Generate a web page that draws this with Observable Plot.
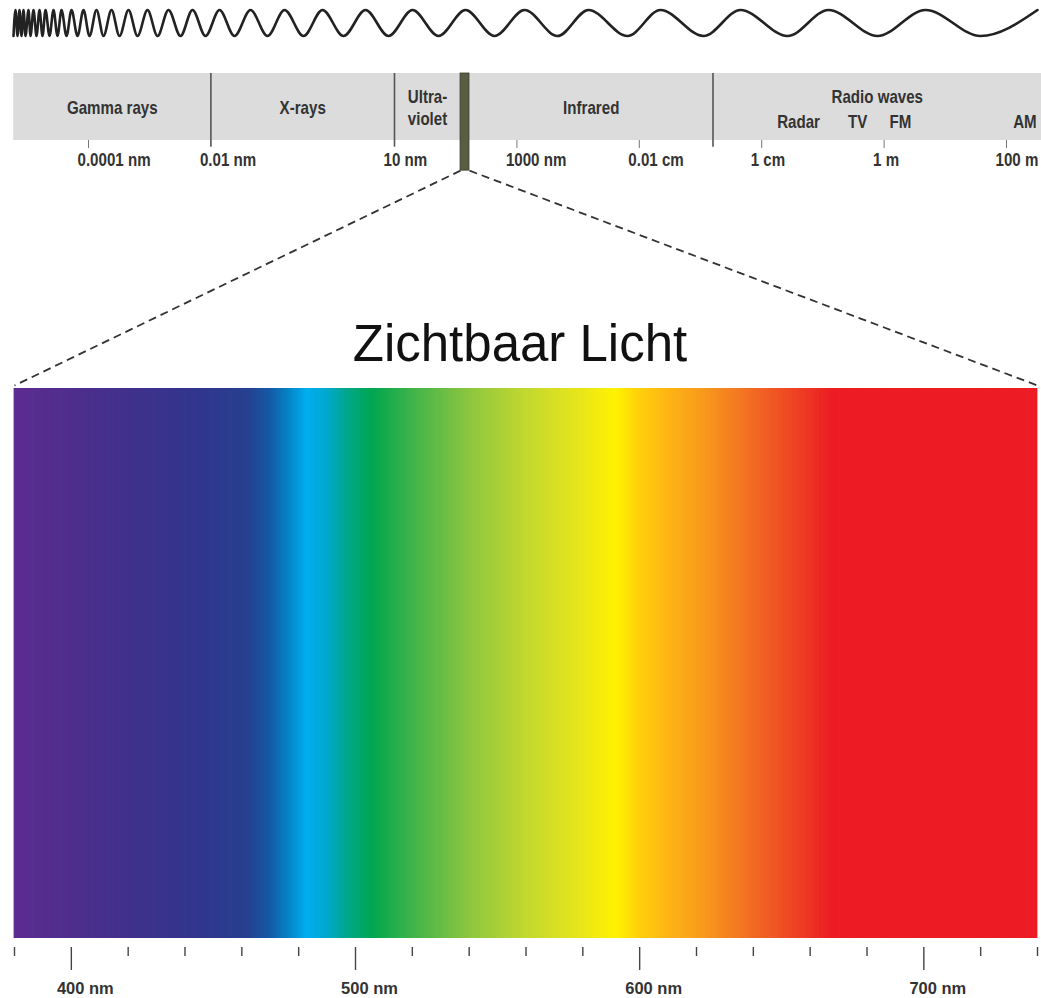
<!DOCTYPE html>
<html>
<head>
<meta charset="utf-8">
<script src="https://cdn.jsdelivr.net/npm/d3@7"></script>
<script src="https://cdn.jsdelivr.net/npm/@observablehq/plot@0.6"></script>
<style>
  html, body { margin: 0; padding: 0; background: #fff; }
  #chart { position: relative; width: 1041px; height: 998px; overflow: hidden; background: #fff; }
</style>
</head>
<body>
<div id="chart"></div>
<script>
// ---------- DATA ----------
// decorative wave: x positions of successive troughs / peaks (left to right)
const waveExtrema = [13, 15, 17, 19, 21, 23, 25, 28, 30, 33, 36, 39, 42, 45, 49, 53, 57, 61, 66, 71,
  77, 83, 89, 96, 103, 111, 119, 128, 137, 147, 157, 168, 180, 192, 205, 219, 234, 250, 267, 284,
  303, 322, 343, 365, 388, 412, 438, 465, 494, 524, 557, 588, 627, 660, 703, 740, 787, 828, 877, 925, 980, 1037];

// electromagnetic spectrum (wavelength in metres, log scale)
const emDomain = [3.65e-15, 373];
const emBandNames = ["Gamma rays", "X-rays", "Ultra-\nviolet", "Infrared", "Radio waves"];
const emBandFrom  = [6e-15, 1e-11, 1e-8, 1.68e-7, 1.6e-3];
const emBandTo    = [1e-11, 1e-8, 1.2e-7, 1.6e-3, 373];
const emDividers  = [1e-11, 1e-8, 1.6e-3];
const visibleBand = [1.2e-7, 1.68e-7];
const emTickValues = [1e-13, 1e-6, 1e-4, 1e-2, 1, 100];
const emLabelValues = [1e-13, 1e-11, 1e-8, 1e-6, 1e-4, 1e-2, 1, 100];
const emLabelTexts  = ["0.0001 nm", "0.01 nm", "10 nm", "1000 nm", "0.01 cm", "1 cm", "1 m", "100 m"];
const radioNames  = ["Radar", "TV", "FM", "AM"];
const radioValues = [0.04, 0.37, 1.85, 200];

// visible light (nm)
const visibleRange = [380, 740];
const nmMajor = [400, 500, 600, 700];
const nmMinor = [380, 420, 440, 460, 480, 520, 540, 560, 580, 620, 640, 660, 680, 720, 740];
const stopNm     = [380, 400, 420, 445, 462, 470, 477, 483, 490, 498, 506, 520, 540, 560, 578, 592, 600, 610, 625, 640, 655, 668, 740];
const stopColors = ["#5d2c91", "#4f2e8e", "#41318c", "#31368d", "#27408f", "#1459a6", "#0586c8", "#00aeef", "#00a8cf",
  "#00a785", "#00a650", "#3fb34a", "#8cc640", "#c2d82f", "#e5e41c", "#fff200", "#ffd00b", "#fdb515", "#f7941d",
  "#f26a24", "#ee4224", "#ed1c24", "#ed1c24"];
const title = "Zichtbaar Licht";

// ---------- LAYOUT ----------
const W = 1041, H = 998;
const EM_TOP = 60, SPEC_TOP = 160, SPEC_MT = 228;
const FONT = "'Liberation Sans', Arial, Helvetica, sans-serif";
const chart = document.getElementById("chart");
const place = (svg, top) => {
  svg.style.position = "absolute";
  svg.style.left = "0px";
  svg.style.top = top + "px";
  svg.style.background = "transparent";
  svg.style.maxWidth = "none";
  chart.appendChild(svg);
  return svg;
};
// condensed look: narrow each label around its own anchor
const condense = (svg, k) => {
  svg.querySelectorAll("text").forEach(t => {
    if (t.textContent === title) return;
    const tr = t.getAttribute("transform") || "";
    t.setAttribute("transform", `${tr} scale(${k},1)`);
  });
};

// wave
const wavePts = waveExtrema.map((x, i) => ({x, y: i % 2 === 0 ? -1 : 1}));
const wave = Plot.plot({
  width: W, height: 48, margin: 0, marginTop: 9.5, marginBottom: 12.5,
  x: {domain: [0, W], axis: null},
  y: {domain: [-1, 1], axis: null},
  marks: [
    Plot.line(wavePts, {x: "x", y: "y", curve: "monotone-x", stroke: "#222", strokeWidth: 2.6})
  ]
});
place(wave, 0);

// EM spectrum bar
const bands = emBandNames.map((name, i) => ({name, from: emBandFrom[i], to: emBandTo[i]}));
const emLabels = emLabelValues.map((value, i) => ({value, label: emLabelTexts[i]}));
const radio = radioNames.map((name, i) => ({name, value: radioValues[i]}));
const em = Plot.plot({
  width: W, height: 120, marginLeft: 0, marginRight: 0, marginTop: 13, marginBottom: 40,
  x: {type: "log", domain: emDomain, axis: null},
  y: {domain: [0, 1], reverse: true, axis: null},
  style: {fontFamily: FONT, fontSize: "18px", fontWeight: "bold", color: "#333"},
  marks: [
    Plot.rect([{from: emBandFrom[0], to: emBandTo[emBandTo.length - 1]}], {x1: "from", x2: "to", y1: 0, y2: 1, fill: "#dcdcdc"}),
    Plot.ruleX(emDividers, {y1: 0, y2: 1.1, stroke: "#555", strokeWidth: 1.6}),
    Plot.rect([{from: visibleBand[0], to: visibleBand[1]}], {x1: "from", x2: "to", y1: 0, y2: 1.45, fill: "#5a5c44", stroke: "#3c3d2e", strokeWidth: 0.8}),
    Plot.ruleX(emTickValues, {y1: 1.0, y2: 1.12, stroke: "#777", strokeWidth: 1}),
    Plot.text(emLabels, {x: "value", y: 1.3, text: "label", textAnchor: "start", dx: -11, fill: "#333"}),
    Plot.text(bands, {x: d => Math.sqrt(d.from * d.to), y: d => d.name === "Radio waves" ? 0.33 : 0.5, text: "name", lineHeight: 1.2, fill: "#333"}),
    Plot.text(radio, {x: "value", y: 0.72, text: "name", fill: "#333"})
  ]
});
condense(em, 0.84);
place(em, EM_TOP);

// visible spectrum
const step = 0.5;
const bins = d3.range(visibleRange[0], visibleRange[1], step);
const spec = Plot.plot({
  width: W, height: H - SPEC_TOP, marginLeft: 14, marginRight: 4, marginTop: SPEC_MT, marginBottom: 51,
  x: {domain: visibleRange},
  color: {type: "linear", domain: stopNm, range: stopColors},
  style: {fontFamily: FONT, fontSize: "17px", fontWeight: "bold", color: "#333"},
  marks: [
    Plot.rect(bins, {x1: d => d, x2: d => d + step, fill: d => d + step / 2, insetBottom: 9, insetLeft: -0.4, insetRight: -0.4}),
    Plot.axisX(nmMinor, {tickSize: 9, fill: "none", stroke: "#444", strokeWidth: 1.4, label: null}),
    Plot.axisX(nmMajor, {tickSize: 23, fill: "none", stroke: "#444", strokeWidth: 1.4, label: null}),
    Plot.axisX(nmMajor, {tickSize: 0, tickPadding: 34, tickFormat: d => `${d} nm`, dx: 14, fill: "#333", label: null}),
    Plot.text([title], {frameAnchor: "top", dy: -28, dx: -6, lineAnchor: "bottom", fontSize: 51, fontWeight: "normal",
      fontFamily: FONT, fill: "#111"})
  ]
});
condense(spec, 0.97);
place(spec, SPEC_TOP);

// dashed connectors from the visible band to the spectrum
const ex = em.scale("x"), ey = em.scale("y"), sx = spec.scale("x");
const topY = EM_TOP + ey.apply(1.45);
const botY = SPEC_TOP + SPEC_MT - 3;
const links = [
  {x1: ex.apply(visibleBand[0]), y1: topY, x2: sx.apply(visibleRange[0]), y2: botY},
  {x1: ex.apply(visibleBand[1]), y1: topY, x2: sx.apply(visibleRange[1]), y2: botY}
];
const overlay = Plot.plot({
  width: W, height: H, margin: 0,
  x: {type: "identity"}, y: {type: "identity"},
  marks: [
    Plot.link(links, {x1: "x1", y1: "y1", x2: "x2", y2: "y2", stroke: "#333", strokeWidth: 1.8, strokeDasharray: "8,5"})
  ]
});
place(overlay, 0);
overlay.style.pointerEvents = "none";
</script>
</body>
</html>
